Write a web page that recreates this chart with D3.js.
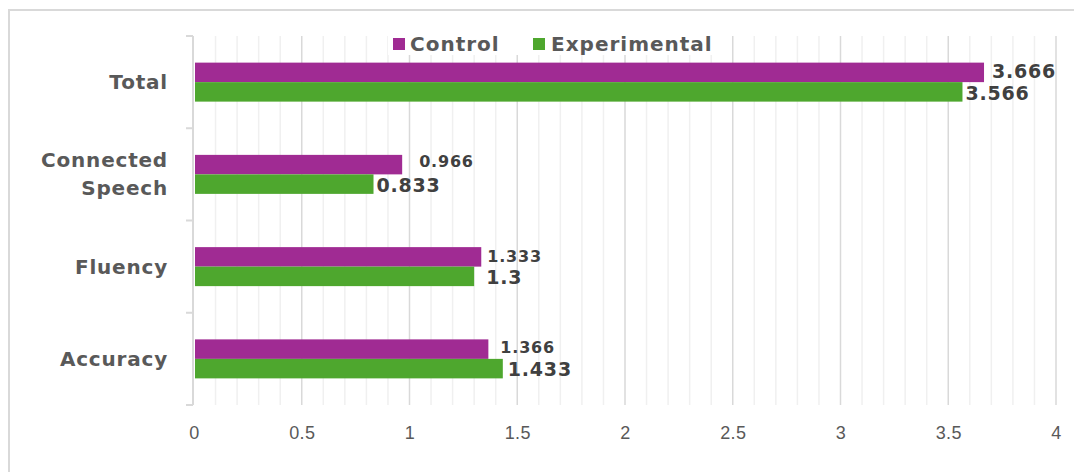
<!DOCTYPE html>
<html>
<head>
<meta charset="utf-8">
<script src="https://cdn.jsdelivr.net/npm/d3@7"></script>
<style>
  html, body { margin: 0; padding: 0; background: #fff; }
  svg { display: block; }
</style>
</head>
<body>
<svg id="chart" width="1074" height="472"></svg>
<script>
// Mean scores by skill area for the two groups
const categories = ["Total", "Connected Speech", "Fluency", "Accuracy"];
const seriesNames = ["Control", "Experimental"];
const controlValues = [3.666, 0.966, 1.333, 1.366];
const experimentalValues = [3.566, 0.833, 1.3, 1.433];
const xTicks = [0, 0.5, 1, 1.5, 2, 2.5, 3, 3.5, 4];

// label styling per bar: [fontSize, dx, dy] (control then experimental)
const controlLabelStyle = [[19, 8, -1], [16, 17, -3], [16, 6, -1], [16, 12, -2]];
const experimentalLabelStyle = [[19, 3, 1], [19, 3, 1], [19, 12, 1], [19, 5, 1]];

const colors = { Control: "#A02B93", Experimental: "#4EA72E" };
const textGrey = "#595959";

const svg = d3.select("#chart");

// outer frame
svg.append("rect")
  .attr("x", 9).attr("y", 10)
  .attr("width", 1200).attr("height", 600)
  .attr("fill", "#fff")
  .attr("stroke", "#d9d9d9").attr("stroke-width", 2);

const plot = { left: 194, right: 1056, top: 36, bottom: 405 };

const x = d3.scaleLinear().domain([0, 4]).range([plot.left, plot.right]);
const y = d3.scaleBand().domain(categories).range([plot.top, plot.bottom]).padding(0);
const barGroupHeight = 39;
const ySeries = d3.scaleBand().domain(seriesNames).range([0, barGroupHeight]);

// minor gridlines every 0.1
const minorTicks = d3.range(0, 41).map(i => i / 10).filter(v => Math.round(v * 10) % 5 !== 0);
svg.append("g")
  .selectAll("line")
  .data(minorTicks)
  .join("line")
  .attr("x1", d => x(d)).attr("x2", d => x(d))
  .attr("y1", plot.top).attr("y2", plot.bottom)
  .attr("stroke", "#f0f0f0").attr("stroke-width", 1.5);

// major gridlines every 0.5
svg.append("g")
  .selectAll("line")
  .data(xTicks.filter(d => d > 0))
  .join("line")
  .attr("x1", d => x(d)).attr("x2", d => x(d))
  .attr("y1", plot.top).attr("y2", plot.bottom)
  .attr("stroke", "#d9d9d9").attr("stroke-width", 1.5);

// x-axis tick labels
const xAxis = d3.axisBottom(x).tickValues(xTicks).tickSize(0).tickFormat(d3.format("~g"));
const gx = svg.append("g")
  .attr("transform", `translate(0,${plot.bottom + 18})`)
  .call(xAxis);
gx.select(".domain").remove();
gx.selectAll("text")
  .attr("fill", textGrey)
  .attr("font-family", "'Liberation Sans', Arial, sans-serif")
  .attr("font-size", 18)
  .attr("letter-spacing", 0.4)
  .attr("dy", "0.71em");

// category axis line with boundary ticks
const gy = svg.append("g");
gy.append("line")
  .attr("x1", plot.left - 1).attr("x2", plot.left - 1)
  .attr("y1", plot.top).attr("y2", plot.bottom)
  .attr("stroke", "#d9d9d9").attr("stroke-width", 2);
const boundaries = categories.map(c => y(c)).concat([plot.bottom]);
gy.selectAll("line.tick")
  .data(boundaries)
  .join("line")
  .attr("class", "tick")
  .attr("x1", plot.left - 8).attr("x2", plot.left - 1)
  .attr("y1", d => d).attr("y2", d => d)
  .attr("stroke", "#d9d9d9").attr("stroke-width", 2);

// category labels
const labelFont = "'DejaVu Sans', sans-serif";
categories.forEach(c => {
  const cy = y(c) + y.bandwidth() / 2;
  const words = c.split(" ");
  const t = svg.append("text")
    .attr("x", 168)
    .attr("text-anchor", "end")
    .attr("fill", textGrey)
    .attr("font-family", labelFont)
    .attr("font-weight", "bold")
    .attr("font-size", 20)
    .attr("letter-spacing", 0.8);
  if (words.length === 1) {
    t.append("tspan").attr("x", 168).attr("y", cy).attr("dy", "0.35em").text(c);
  } else {
    t.append("tspan").attr("x", 168).attr("y", cy - 14).attr("dy", "0.35em").text(words[0]);
    t.append("tspan").attr("x", 168).attr("y", cy + 14).attr("dy", "0.35em").text(words.slice(1).join(" "));
  }
});

// bars
const rows = categories.map((c, i) => ({
  category: c,
  bars: [
    { series: "Control", value: controlValues[i], style: controlLabelStyle[i] },
    { series: "Experimental", value: experimentalValues[i], style: experimentalLabelStyle[i] }
  ]
}));

const groups = svg.append("g")
  .selectAll("g")
  .data(rows)
  .join("g")
  .attr("transform", d => `translate(0,${y(d.category) + (y.bandwidth() - barGroupHeight) / 2})`);

groups.selectAll("rect")
  .data(d => d.bars)
  .join("rect")
  .attr("x", x(0) + 1)
  .attr("y", d => ySeries(d.series))
  .attr("width", d => x(d.value) - x(0) - 1)
  .attr("height", ySeries.bandwidth())
  .attr("fill", d => colors[d.series]);

groups.selectAll("text")
  .data(d => d.bars)
  .join("text")
  .attr("x", d => x(d.value) + d.style[1])
  .attr("y", d => ySeries(d.series) + ySeries.bandwidth() / 2 + d.style[2])
  .attr("dy", "0.36em")
  .attr("fill", "#404040")
  .attr("font-family", labelFont)
  .attr("font-weight", "bold")
  .attr("font-size", d => d.style[0])
  .attr("letter-spacing", 0.8)
  .text(d => String(d.value));

// legend
const legend = svg.append("g");
legend.append("rect")
  .attr("x", 388).attr("y", 33).attr("width", 328).attr("height", 22)
  .attr("fill", "#fff");
const legendItems = [
  { name: "Control", sx: 393, tx: 410 },
  { name: "Experimental", sx: 533, tx: 551 }
];
legendItems.forEach(it => {
  legend.append("rect")
    .attr("x", it.sx).attr("y", 38).attr("width", 12).attr("height", 12)
    .attr("fill", colors[it.name]);
  legend.append("text")
    .attr("x", it.tx).attr("y", 44).attr("dy", "0.35em")
    .attr("fill", textGrey)
    .attr("font-family", labelFont)
    .attr("font-weight", "bold")
    .attr("font-size", 20)
    .attr("letter-spacing", 1)
    .text(it.name);
});
</script>
</body>
</html>
